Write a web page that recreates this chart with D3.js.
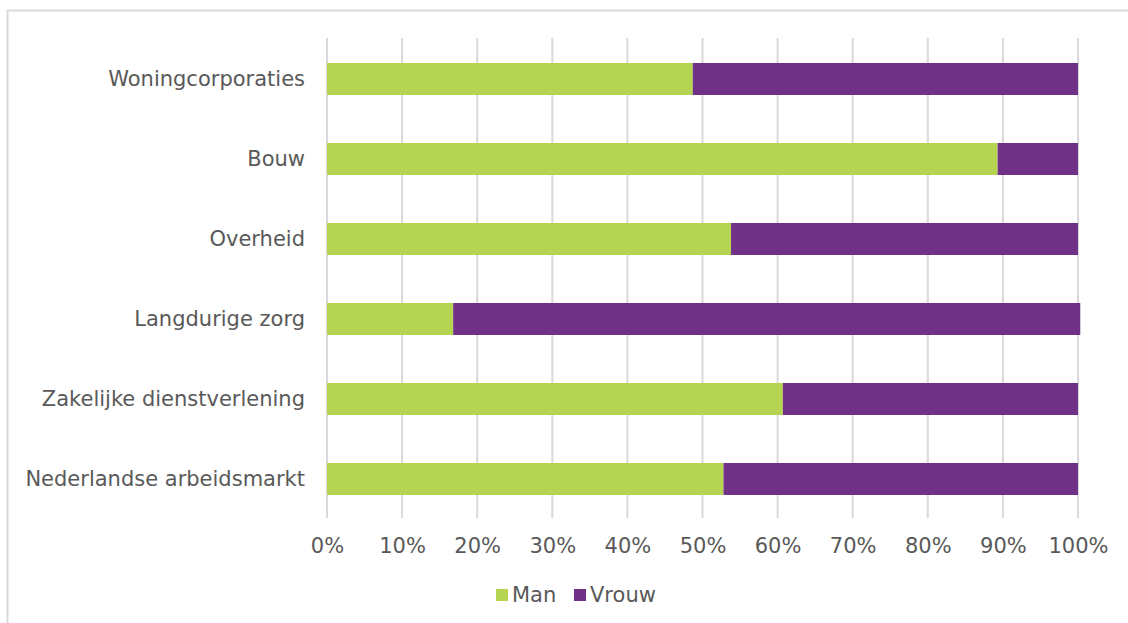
<!DOCTYPE html>
<html>
<head>
<meta charset="utf-8">
<script src="https://cdn.jsdelivr.net/npm/d3@7"></script>
<style>
  html, body { margin: 0; padding: 0; background: #fff; }
  svg { display: block; font-family: "DejaVu Sans", Verdana, sans-serif; }
</style>
</head>
<body>
<svg id="chart" width="1128" height="623"></svg>
<script>
const categories = ["Woningcorporaties", "Bouw", "Overheid", "Langdurige zorg", "Zakelijke dienstverlening", "Nederlandse arbeidsmarkt"];
const seriesNames = ["Man", "Vrouw"];
const manValues = [48.7, 89.3, 53.8, 16.8, 60.7, 52.8];
const vrouwValues = [51.3, 10.7, 46.2, 83.5, 39.3, 47.2];
const tickValues = [0, 10, 20, 30, 40, 50, 60, 70, 80, 90, 100];
const colors = ["#b5d452", "#6f3287"];

const svg = d3.select("#chart");
const W = 1128, H = 623;
const FS = "21px";

// outer frame
svg.append("rect")
  .attr("x", 7.5).attr("y", 10.5)
  .attr("width", W + 10).attr("height", H + 10)
  .attr("fill", "none").attr("stroke", "#d9d9d9").attr("stroke-width", 2);

const x = d3.scaleLinear().domain([0, 100]).range([327, 1078]);
const y = d3.scaleBand().domain(categories).range([39, 519]).paddingInner(0.6).paddingOuter(0.3);

// gridlines
svg.append("g").selectAll("line").data(tickValues).join("line")
  .attr("x1", d => x(d)).attr("x2", d => x(d))
  .attr("y1", 38).attr("y2", 518)
  .attr("stroke", "#d9d9d9").attr("stroke-width", 2);

// stacked data
const rows = categories.map((c, i) => ({ cat: c, Man: manValues[i], Vrouw: vrouwValues[i] }));
const stack = d3.stack().keys(seriesNames)(rows);

svg.append("g").selectAll("g").data(stack).join("g")
  .attr("fill", (d, i) => colors[i])
  .selectAll("rect").data(d => d).join("rect")
  .attr("x", d => x(d[0]))
  .attr("width", d => x(d[1]) - x(d[0]))
  .attr("y", d => y(d.data.cat))
  .attr("height", y.bandwidth());

// y axis labels
const yAxis = d3.axisLeft(y).tickSize(0).tickPadding(22);
const gy = svg.append("g").attr("transform", `translate(${327},0)`).call(yAxis);
gy.select(".domain").remove();
gy.selectAll("text").attr("fill", "#595959").style("font-size", FS)
  .style("font-family", '"DejaVu Sans", Verdana, sans-serif');

// x axis labels
const xAxis = d3.axisBottom(x).tickValues(tickValues).tickFormat(d => d + "%").tickSize(0).tickPadding(20);
const gx = svg.append("g").attr("transform", `translate(0,${518})`).call(xAxis);
gx.select(".domain").remove();
gx.selectAll("text").attr("fill", "#595959").style("font-size", FS)
  .style("font-family", '"DejaVu Sans", Verdana, sans-serif');

// legend
const legend = svg.append("g").attr("transform", "translate(0,595)");
const legendX = [496, 574];
seriesNames.forEach((s, i) => {
  const g = legend.append("g").attr("transform", `translate(${legendX[i]},0)`);
  g.append("rect").attr("x", 0).attr("y", -6).attr("width", 12).attr("height", 12).attr("fill", colors[i]);
  g.append("text").attr("x", 16).attr("y", 0).attr("dy", "0.35em")
    .attr("fill", "#595959").style("font-size", FS).text(s);
});
</script>
</body>
</html>
